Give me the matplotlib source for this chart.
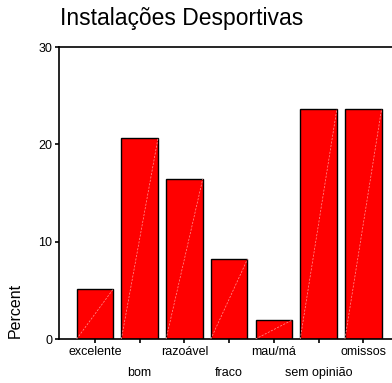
import matplotlib
matplotlib.use("Agg")
import matplotlib.pyplot as plt
import numpy as np

categories = ["excelente", "bom", "razoável", "fraco", "mau/má", "sem opinião", "omissos"]
values = [5.15, 20.65, 16.45, 8.2, 1.95, 23.65, 23.65]
yticks = [0, 10, 20, 30]

plt.rcParams['font.family'] = ['Liberation Sans', 'DejaVu Sans']
fig = plt.figure(figsize=(3.92, 3.83), dpi=100)
ax = fig.add_axes([59/392, 1-339/383, 1.05, (339-47)/383])

x = np.arange(len(categories))
w = 0.82
bars = ax.bar(x, values, width=w, color="#FF0000", edgecolor="black", linewidth=1.0, zorder=2)
for xi, v in zip(x, values):
    ax.plot([xi - w/2, xi + w/2], [0, v], color="#FF9999", linewidth=0.5, linestyle=(0, (3, 2)), zorder=3)

ax.set_xlim(-0.805, 8.40)
ax.set_ylim(0, 30)
ax.set_yticks(yticks)
ax.set_yticklabels([str(t) for t in yticks], fontsize=9)
ax.set_xticks(x)
ax.set_xticklabels(categories, fontsize=9)
for i, lab in enumerate(ax.get_xticklabels()):
    if i % 2 == 1:
        lab.set_y(-0.072)
ax.tick_params(axis='both', direction='out', length=3, width=1.2, pad=2)
for s in ['left', 'top', 'bottom']:
    ax.spines[s].set_linewidth(1.2)
ax.spines['right'].set_visible(False)

fig.text(15/392, 1-310/383, "Percent", rotation=90, fontsize=11.5, ha='center', va='center')
fig.text(60/392, 1-19/383, "Instalações Desportivas", fontsize=16.5, ha='left', va='center')

fig.savefig("out.png", dpi=100)
